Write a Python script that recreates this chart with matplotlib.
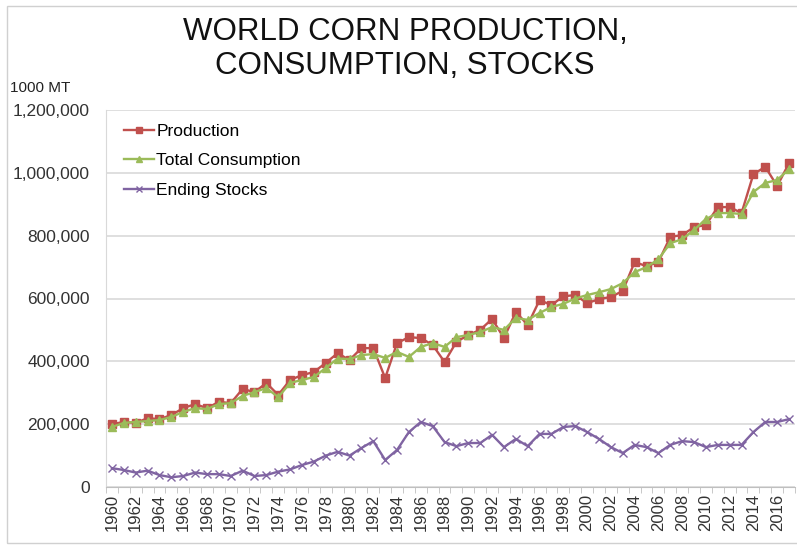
import numpy as np
import matplotlib
matplotlib.use("Agg")
import matplotlib.pyplot as plt
import matplotlib.patches as patches
from matplotlib.ticker import FuncFormatter, MultipleLocator

plt.rcParams['font.family'] = ['Liberation Sans', 'DejaVu Sans']

# world corn balance, 1000 MT
years = list(range(1960, 2018))
production = [
    200, 207, 204, 219, 216, 229, 251, 264, 251, 271,
    267, 312, 302, 331, 293, 341, 356, 366, 395, 426,
    404, 442, 442, 347, 458, 477, 474, 452, 398, 462,
    484, 500, 535, 474, 557, 516, 595, 579, 607, 611,
    585, 598, 605, 624, 716, 703, 716, 796, 802, 827,
    834, 891, 891, 872, 996, 1019, 958, 1031,
]
consumption = [
    191, 204, 207, 210, 213, 223, 239, 251, 248, 264,
    267, 290, 302, 315, 286, 331, 341, 350, 379, 409,
    407, 420, 423, 411, 430, 414, 446, 458, 446, 477,
    484, 493, 509, 500, 538, 532, 554, 573, 583, 600,
    611, 620, 630, 649, 684, 700, 725, 776, 789, 818,
    853, 872, 872, 869, 939, 968, 977, 1012,
]
stocks = [
    60, 54, 46, 52, 38, 31, 35, 46, 41, 41,
    35, 52, 35, 38, 49, 56, 70, 81, 100, 112,
    100, 124, 146, 86, 118, 175, 207, 194, 143, 130,
    140, 140, 166, 127, 153, 130, 169, 169, 191, 194,
    175, 153, 127, 108, 134, 127, 108, 134, 146, 143,
    127, 134, 134, 134, 175, 207, 207, 216,
]

x = np.array(years)
prod = np.array(production) * 1000
cons = np.array(consumption) * 1000
stk = np.array(stocks) * 1000

fig = plt.figure(figsize=(7.97, 5.47), dpi=100)

# light outer frame
fig.patches.append(patches.Rectangle((7 / 797, 4 / 547), 1.0, 537 / 547,
                                     transform=fig.transFigure, fill=False,
                                     ec='#d0d0d0', lw=1.0))

ax = fig.add_axes([106 / 797, 60 / 547, 689 / 797, 377 / 547])

ax.plot(x, prod, color='#C0504D', lw=1.7, marker='s', ms=5.5,
        mec='#C0504D', label='Production', zorder=3)
ax.plot(x, cons, color='#9BBB59', lw=1.7, marker='^', ms=5.5,
        mec='#9BBB59', label='Total Consumption', zorder=4)
ax.plot(x, stk, color='#8064A2', lw=1.7, marker='x', ms=5.5,
        mew=1.0, label='Ending Stocks', zorder=3)

ax.set_xlim(1959.5, 2017.5)
ax.set_ylim(0, 1200000)
ax.yaxis.set_major_locator(MultipleLocator(200000))
ax.yaxis.set_major_formatter(FuncFormatter(lambda v, p: f"{int(v):,}"))
ax.grid(axis='y', color='#d9d9d9', lw=1.2)
ax.set_axisbelow(True)

ax.set_xticks(range(1960, 2018, 2))
ax.set_xticklabels([str(y) for y in range(1960, 2018, 2)], rotation=90)
ax.set_xticks(np.arange(1959.5, 2018, 1.0), minor=True)
ax.tick_params(axis='x', which='major', length=0, pad=5,
               labelsize=12, labelcolor='#333333')
ax.tick_params(axis='x', which='minor', length=4, color='#bfbfbf')
ax.tick_params(axis='y', length=0, pad=11.5, labelsize=12.5,
               labelcolor='#333333')

for s in ['top', 'right']:
    ax.spines[s].set_visible(False)
ax.spines['left'].set_color('#d9d9d9')
ax.spines['bottom'].set_color('#bfbfbf')

ax.legend(loc='upper left', bbox_to_anchor=(0.004, 1.005), frameon=False,
          fontsize=12.5, handlelength=1.7, handletextpad=0.15,
          labelspacing=0.82, markerscale=0.75)

fig.text(405 / 797, 1 - 32 / 547, "WORLD CORN PRODUCTION,",
         ha='center', va='center', fontsize=22.5, color='#111111')
fig.text(405 / 797, 1 - 66 / 547, "CONSUMPTION, STOCKS",
         ha='center', va='center', fontsize=22.5, color='#111111')
fig.text(10 / 797, 1 - 88 / 547, "1000 MT", ha='left', va='center',
         fontsize=11, color='#222222')

fig.savefig("out.png", dpi=100)
